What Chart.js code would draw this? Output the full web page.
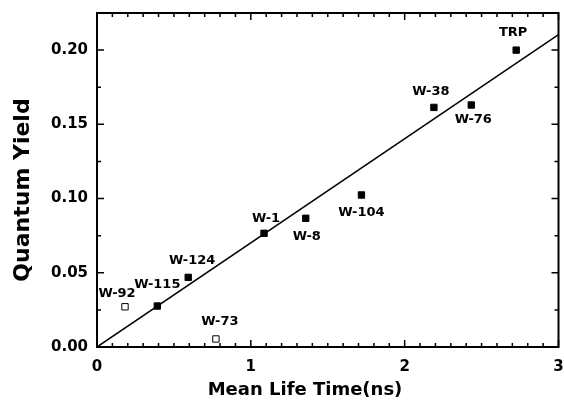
<!DOCTYPE html>
<html>
<head>
<meta charset="utf-8">
<script src="https://cdn.jsdelivr.net/npm/chart.js@4.4.0/dist/chart.umd.min.js"></script>
<style>
  html, body { margin: 0; padding: 0; background: #fff; }
</style>
</head>
<body>
<canvas id="yieldChart" width="564" height="400"></canvas>
<script>
// mutants that follow the linear trend (filled squares)
const sampleNames = ['TRP', 'W-38', 'W-76', 'W-104', 'W-8', 'W-1', 'W-124', 'W-115'];
const sampleLifeTimes = [2.725, 2.19, 2.433, 1.719, 1.357, 1.086, 0.593, 0.392];
const sampleYields = [0.200, 0.1614, 0.163, 0.1024, 0.0867, 0.0766, 0.0469, 0.0276];

// mutants left out of the fit (open squares)
const outlierNames = ['W-92', 'W-73'];
const outlierLifeTimes = [0.182, 0.773];
const outlierYields = [0.0271, 0.0054];

// linear fit
const fitLifeTimes = [0, 3];
const fitYields = [0, 0.2105];

const xTickValues = [0, 1, 2, 3];
const xTickLabels = ['0', '1', '2', '3'];
const yTickValues = [0, 0.05, 0.10, 0.15, 0.20];
const yTickLabels = ['0.00', '0.05', '0.10', '0.15', '0.20'];

// where each name sits relative to its square, in px
const labelOffsets = {
  'TRP': [-3, -17], 'W-38': [-3, -16], 'W-76': [2, 15], 'W-104': [0, 18],
  'W-8': [1, 18], 'W-1': [2, -15], 'W-124': [4, -17], 'W-115': [0, -21],
  'W-92': [-8, -13], 'W-73': [4, -17]
};

const FONT = 'DejaVu Sans';

function points(xs, ys) {
  return xs.map((v, i) => ({ x: v, y: ys[i] }));
}

// closed frame with inward major/minor ticks on all four sides
const frameTicks = {
  id: 'frameTicks',
  afterDatasetsDraw(chart) {
    const { ctx, chartArea: a, scales: { x, y } } = chart;
    ctx.save();
    ctx.strokeStyle = '#000';
    ctx.lineWidth = 1.5;
    ctx.beginPath();
    for (let i = 0; i <= 30; i++) {
      const px = x.getPixelForValue(i / 10);
      const len = i % 10 === 0 ? 7 : 4;
      ctx.moveTo(px, a.bottom); ctx.lineTo(px, a.bottom - len);
      ctx.moveTo(px, a.top); ctx.lineTo(px, a.top + len);
    }
    for (let i = 0; i <= 8; i++) {
      const py = y.getPixelForValue(i * 0.025);
      const len = i % 2 === 0 ? 7 : 4;
      ctx.moveTo(a.left, py); ctx.lineTo(a.left + len, py);
      ctx.moveTo(a.right, py); ctx.lineTo(a.right - len, py);
    }
    ctx.stroke();
    ctx.lineWidth = 2;
    ctx.strokeRect(a.left, a.top, a.right - a.left, a.bottom - a.top);
    ctx.restore();
  }
};

// sample names next to the squares
const pointNames = {
  id: 'pointNames',
  afterDatasetsDraw(chart) {
    const ctx = chart.ctx;
    ctx.save();
    ctx.fillStyle = '#000';
    ctx.font = 'bold 13px "' + FONT + '"';
    ctx.textAlign = 'center';
    ctx.textBaseline = 'middle';
    [[1, sampleNames], [2, outlierNames]].forEach(([idx, names]) => {
      chart.getDatasetMeta(idx).data.forEach((pt, i) => {
        const off = labelOffsets[names[i]] || [0, -15];
        ctx.fillText(names[i], pt.x + off[0], pt.y + off[1]);
      });
    });
    ctx.restore();
  }
};

// axis titles
const axisTitles = {
  id: 'axisTitles',
  afterDraw(chart) {
    const ctx = chart.ctx;
    ctx.save();
    ctx.fillStyle = '#000';
    ctx.textAlign = 'center';
    ctx.textBaseline = 'middle';
    ctx.font = 'bold 18px "' + FONT + '"';
    ctx.fillText('Mean Life Time(ns)', 305, 390);
    ctx.translate(23, 190);
    ctx.rotate(-Math.PI / 2);
    ctx.font = 'bold 22px "' + FONT + '"';
    ctx.fillText('Quantum Yield', 0, 0);
    ctx.restore();
  }
};

new Chart(document.getElementById('yieldChart'), {
  type: 'scatter',
  data: {
    datasets: [
      {
        type: 'line',
        data: points(fitLifeTimes, fitYields),
        borderColor: '#000',
        borderWidth: 1.5,
        pointRadius: 0,
        fill: false
      },
      {
        data: points(sampleLifeTimes, sampleYields),
        pointStyle: 'rect',
        pointRadius: 4.5,
        backgroundColor: '#000',
        borderColor: '#000',
        borderWidth: 1
      },
      {
        data: points(outlierLifeTimes, outlierYields),
        pointStyle: 'rect',
        pointRadius: 4.5,
        backgroundColor: '#fff',
        borderColor: '#000',
        borderWidth: 1
      }
    ]
  },
  options: {
    responsive: false,
    animation: false,
    devicePixelRatio: 1,
    layout: { padding: { top: 13, right: 5, left: 0, bottom: 0 } },
    plugins: { legend: { display: false }, tooltip: { enabled: false } },
    scales: {
      x: {
        type: 'linear',
        min: 0,
        max: 3,
        grid: { display: false, drawTicks: false },
        border: { display: false },
        afterBuildTicks: s => { s.ticks = xTickValues.map(v => ({ value: v })); },
        afterFit: s => {
          s.height = 53;
          s.paddingLeft = 0;
          s.paddingRight = 0;
        },
        ticks: {
          padding: 11,
          color: '#000',
          maxRotation: 0,
          font: { family: FONT, size: 15, weight: 'bold' },
          callback: (v, i) => xTickLabels[i]
        }
      },
      y: {
        type: 'linear',
        min: 0,
        max: 0.225,
        grid: { display: false, drawTicks: false },
        border: { display: false },
        afterBuildTicks: s => { s.ticks = yTickValues.map(v => ({ value: v })); },
        afterFit: s => {
          s.width = 97;
          s.paddingTop = 0;
          s.paddingBottom = 0;
        },
        ticks: {
          padding: 9,
          color: '#000',
          font: { family: FONT, size: 15, weight: 'bold' },
          callback: (v, i) => yTickLabels[i]
        }
      }
    }
  },
  plugins: [frameTicks, pointNames, axisTitles]
});
</script>
</body>
</html>
